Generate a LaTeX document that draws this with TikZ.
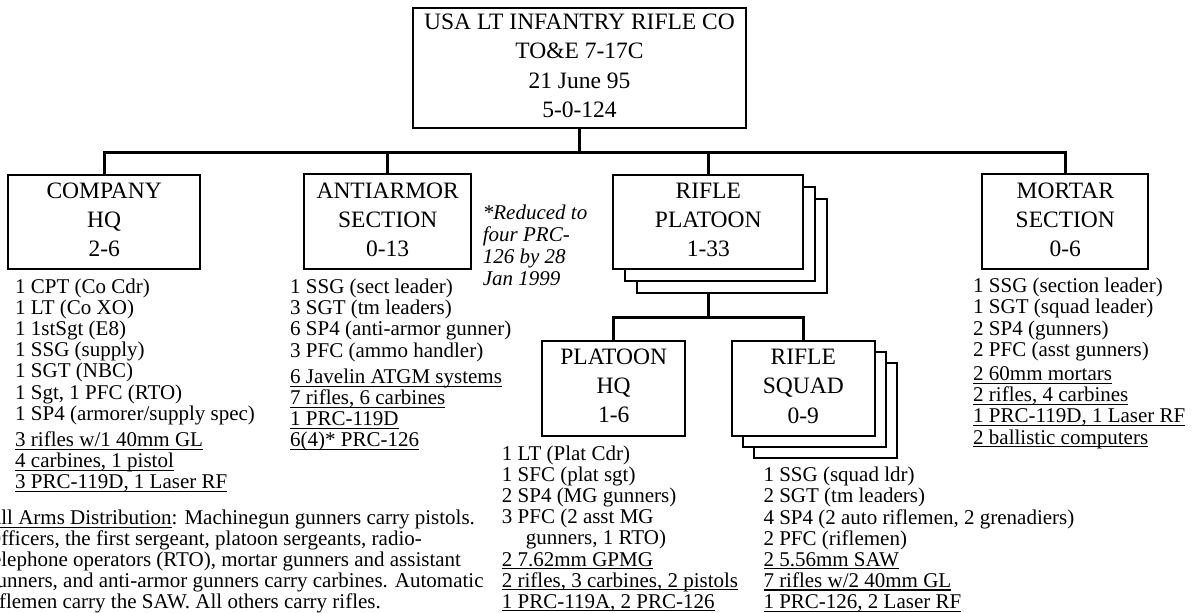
\documentclass[tikz,border=0pt]{standalone}
\usepackage{fontspec}
\setmainfont{Liberation Serif}
\newlength\ulw
\newcommand\myul[1]{\settowidth\ulw{#1}\rlap{\rule[-3.2pt]{\ulw}{1.1pt}}#1}
\begin{document}
\begin{tikzpicture}[x=1pt,y=-1pt,
  box/.style={draw, line width=1.8pt, fill=white, outer sep=0pt, inner sep=0pt,
    align=center, font=\fontsize{23.5}{29.2}\selectfont, text depth=4.5pt},
  conn/.style={line width=3pt},
  list/.style={anchor=base west, inner sep=0pt, align=left, font=\fontsize{21}{21.1}\selectfont},
  note/.style={anchor=base west, inner sep=0pt, align=left, font=\itshape\fontsize{21}{21.7}\selectfont}]
\useasboundingbox[fill=white] (0,0) rectangle (1195,613);

% boxes
\node[box, minimum width=333, minimum height=120] (top) at (579.5,68)
  {USA LT INFANTRY RIFLE CO\\TO\&E 7-17C\\21 June 95\\5-0-124};
\node[box, minimum width=192, minimum height=94] (co) at (104.2,222.2) {COMPANY\\HQ\\2-6};
\node[box, minimum width=167, minimum height=95] (aa) at (387.7,221.7) {ANTIARMOR\\SECTION\\0-13};
\node[box, minimum width=190, minimum height=94] (rp3) at (732.3,246) {};
\node[box, minimum width=190, minimum height=94] (rp2) at (720.3,234) {};
\node[box, minimum width=190, minimum height=94] (rp) at (708.3,222) {RIFLE\\PLATOON\\1-33};
\node[box, minimum width=166, minimum height=95] (mo) at (1065.3,221.8) {MORTAR\\SECTION\\0-6};
\node[box, minimum width=143, minimum height=95] (phq) at (613.7,388.2) {PLATOON\\HQ\\1-6};
\node[box, minimum width=143, minimum height=95] (sq3) at (825.3,410.5) {};
\node[box, minimum width=143, minimum height=95] (sq2) at (814.3,399.5) {};
\node[box, minimum width=143, minimum height=95] (sq) at (803.3,388.5) {RIFLE\\SQUAD\\0-9};

% connectors
\coordinate (bar) at (579.5,152);
\draw[conn] (top.south) -- (bar);
\draw[conn] (co.north) |- (bar) -| (mo.north);
\draw[conn] (aa.north) -- (aa.north |- bar);
\draw[conn] (rp.north) -- (rp.north |- bar);
\coordinate (pbar) at (708.3,317);
\draw[conn] (rp3.south -| rp.south) -- (pbar);
\draw[conn] (phq.north) |- (pbar) -| (sq.north);

% lists (anchored at the baseline of their last line)
\node[list] (colist) at (15,488.7) {1 CPT (Co Cdr)\\1 LT (Co XO)\\1 1stSgt (E8)\\1 SSG (supply)\\1 SGT (NBC)\\1 Sgt, 1 PFC (RTO)\\1 SP4 (armorer/supply spec)\\[5.3pt]\myul{3 rifles w/1 40mm GL}\\\myul{4 carbines, 1 pistol}\\\myul{3 PRC-119D, 1 Laser RF}};
\node[list] (aalist) at (290,446.7) {1 SSG (sect leader)\\3 SGT (tm leaders)\\6 SP4 (anti-armor gunner)\\3 PFC (ammo handler)\\[5.3pt]\myul{6 Javelin ATGM systems}\\\myul{7 rifles, 6 carbines}\\\myul{1 PRC-119D}\\\myul{6(4)* PRC-126}};
\node[note] (aanote) at (482.7,285) {*Reduced to\\four PRC-\\126 by 28\\Jan 1999};
\node[list] (molist) at (973,444) {1 SSG (section leader)\\1 SGT (squad leader)\\2 SP4 (gunners)\\2 PFC (asst gunners)\\[3.5pt]\myul{2 60mm mortars}\\\myul{2 rifles, 4 carbines}\\\myul{1 PRC-119D, 1 Laser RF}\\\myul{2 ballistic computers}};
\node[list] (phqlist) at (501.7,608.2) {1 LT (Plat Cdr)\\1 SFC (plat sgt)\\2 SP4 (MG gunners)\\3 PFC (2 asst MG\\\hspace*{24pt}gunners, 1 RTO)\\\myul{2 7.62mm GPMG}\\\myul{2 rifles, 3 carbines, 2 pistols}\\\myul{1 PRC-119A, 2 PRC-126}};
\node[list] (sqlist) at (763.3,608.4) {1 SSG (squad ldr)\\2 SGT (tm leaders)\\4 SP4 (2 auto riflemen, 2 grenadiers)\\2 PFC (riflemen)\\\myul{2 5.56mm SAW}\\\myul{7 rifles w/2 40mm GL}\\\myul{1 PRC-126, 2 Laser RF}};
\node[list] (armsnote) at (-14,608.8) {\myul{All Arms Distribution}: Machinegun gunners carry pistols.\\Officers, the first sergeant, platoon sergeants, radio-\\telephone operators (RTO), mortar gunners and assistant\\gunners, and anti-armor gunners carry carbines. Automatic\\riflemen carry the SAW. All others carry rifles.};
\end{tikzpicture}
\end{document}
